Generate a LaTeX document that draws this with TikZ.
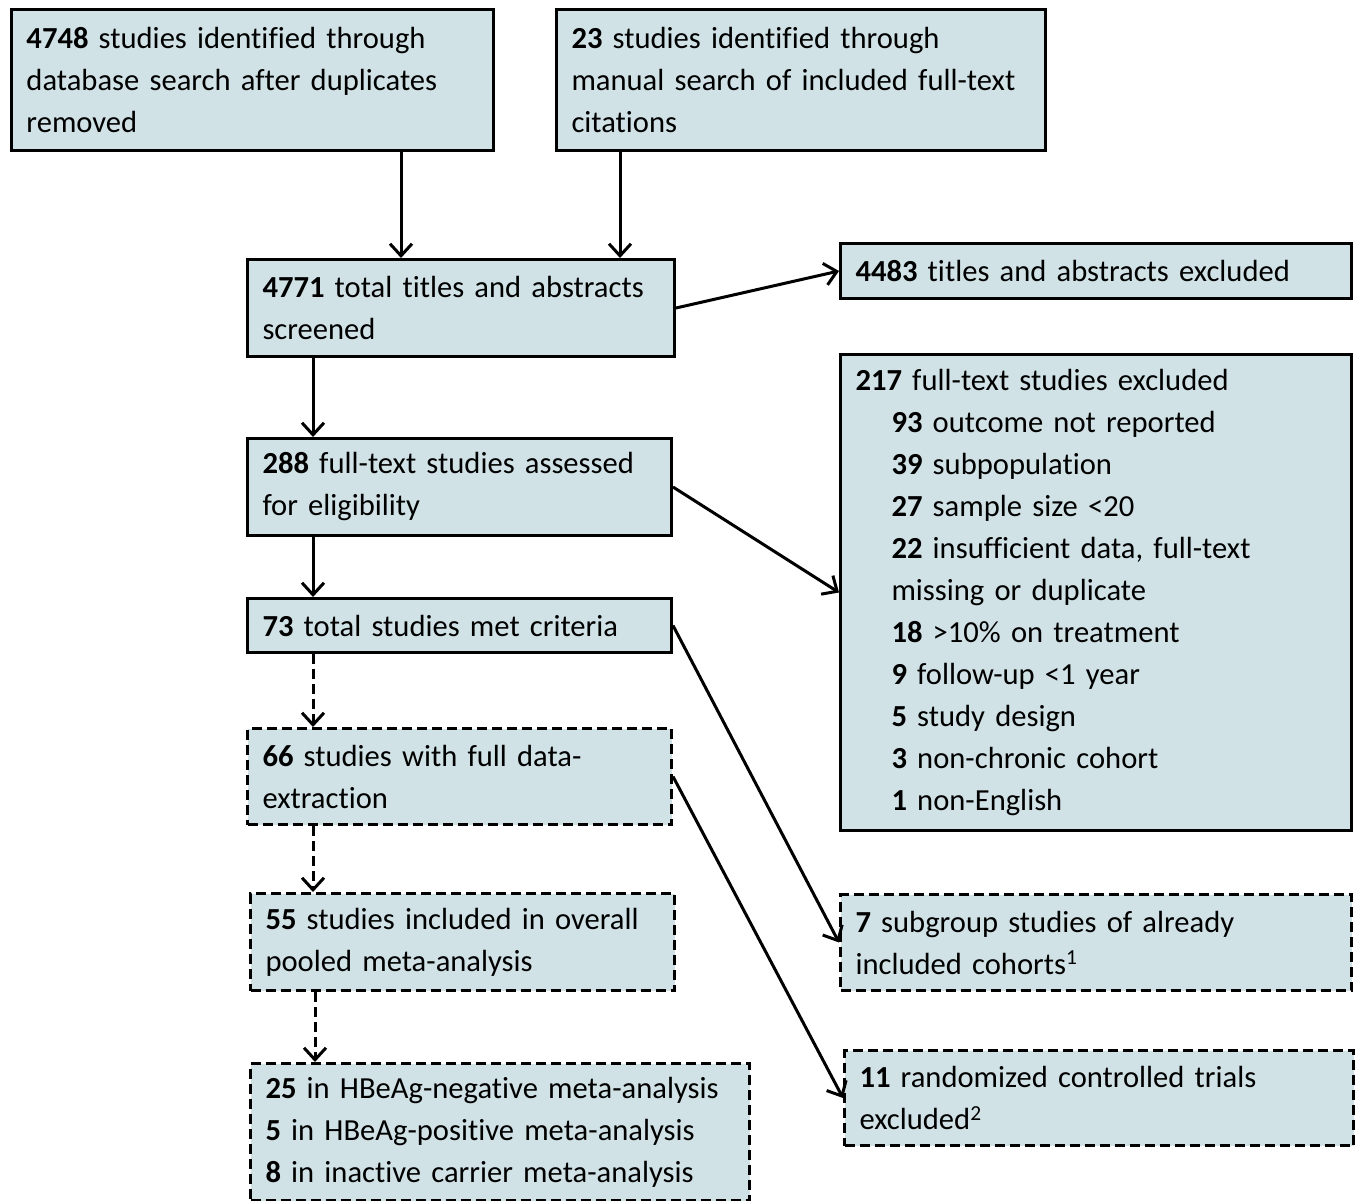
\documentclass[tikz,border=0pt]{standalone}
\usepackage{fontspec}
\setmainfont{Carlito}[Ligatures={NoCommon,NoContextual}]
\usetikzlibrary{arrows.meta}
\definecolor{boxfill}{RGB}{208,226,230}
\tikzset{
  box/.style={draw=black, line width=3pt, fill=boxfill, anchor=north west, align=left,
    inner xsep=15pt, inner ysep=0pt, font=\fontsize{30.6}{42}\selectfont},
  dbox/.style={box, dash pattern=on 10pt off 5pt},
  arr/.style={-{Straight Barb[length=12pt,width=22pt]}, line width=3pt},
  darr/.style={arr, dash pattern=on 10pt off 5pt}
}
\newcommand\ind{\hspace*{36pt}}
\begin{document}
\begin{tikzpicture}[x=1pt,y=-1pt]
\useasboundingbox (0,0) rectangle (1358,1201);
\node[box, minimum width=482pt, minimum height=141pt, text width=452pt] (A) at (10,8)
  {\textbf{4748} studies identified through\\database search after duplicates\\removed};
\node[box, minimum width=489pt, minimum height=141pt, text width=459pt] (B) at (555,8)
  {\textbf{23} studies identified through\\manual search of included full-text\\citations};
\node[box, minimum width=427pt, minimum height=97pt, text width=397pt] (C) at (246,258)
  {\textbf{4771} total titles and abstracts\\screened};
\node[box, minimum width=511pt, minimum height=55pt, text width=481pt] (D) at (839,242)
  {\textbf{4483} titles and abstracts excluded};
\node[box, minimum width=511pt, minimum height=476pt, text width=481pt] (E) at (839,353)
  {\textbf{217} full-text studies excluded\\
   \ind\textbf{93} outcome not reported\\
   \ind\textbf{39} subpopulation\\
   \ind\textbf{27} sample size <20\\
   \ind\textbf{22} insufficient data, full-text\\
   \ind missing or duplicate\\
   \ind\textbf{18} >10\% on treatment\\
   \ind\textbf{9} follow-up <1 year\\
   \ind\textbf{5} study design\\
   \ind\textbf{3} non-chronic cohort\\
   \ind\textbf{1} non-English};
\node[box, minimum width=424pt, minimum height=97pt, text width=394pt] (F) at (246,437)
  {\textbf{288} full-text studies assessed\\for eligibility};
\node[box, minimum width=424pt, minimum height=54pt, text width=394pt] (G) at (246,597)
  {\textbf{73} total studies met criteria};
\node[dbox, minimum width=424pt, minimum height=96pt, text width=394pt] (H) at (246,727)
  {\textbf{66} studies with full data-\\extraction};
\node[dbox, minimum width=424pt, minimum height=97pt, text width=394pt] (I) at (249,892)
  {\textbf{55} studies included in overall\\pooled meta-analysis};
\node[dbox, minimum width=499pt, minimum height=137pt, text width=469pt] (J) at (249,1062)
  {\textbf{25} in HBeAg-negative meta-analysis\\\textbf{5} in HBeAg-positive meta-analysis\\\textbf{8} in inactive carrier meta-analysis};
\node[dbox, minimum width=511pt, minimum height=96pt, text width=481pt] (K) at (839,893)
  {\textbf{7} subgroup studies of already\\included cohorts\textsuperscript{1}};
\node[dbox, minimum width=509pt, minimum height=95pt, text width=479pt] (L) at (843,1049)
  {\textbf{11} randomized controlled trials\\excluded\textsuperscript{2}};

\draw[arr] (A.south -| 401,0) -- (C.north -| 401,0);
\draw[arr] (B.south -| 620,0) -- (C.north -| 620,0);
\draw[arr] (C.east) -- (D.west);
\draw[arr] (C.south -| 313,0) -- (F.north -| 313,0);
\draw[arr] (F.east) -- (E.west);
\draw[arr] (F.south -| 313,0) -- (G.north -| 313,0);
\draw[darr] (G.south -| 313,0) -- (H.north -| 313,0);
\draw[arr] (G.east) -- (K.west);
\draw[darr] (H.south -| 313,0) -- (I.north -| 313,0);
\draw[arr] (H.east) -- (L.west);
\draw[darr] (I.south -| 315,0) -- (J.north -| 315,0);
\end{tikzpicture}
\end{document}
